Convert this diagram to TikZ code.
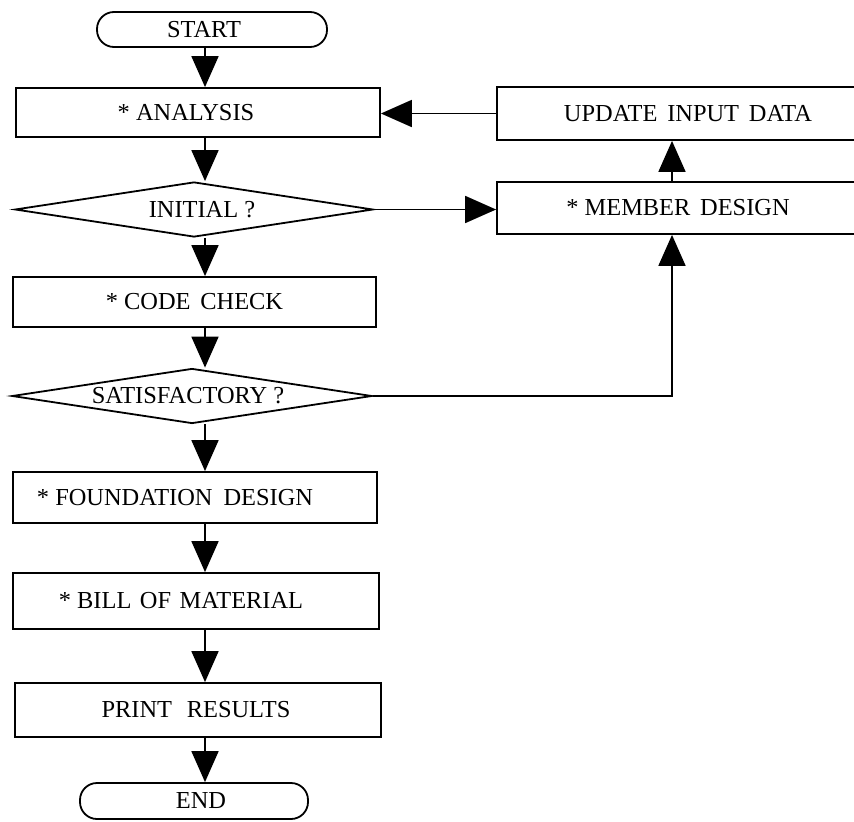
\documentclass[tikz,border=0pt]{standalone}
\usepackage{fontspec}
\setmainfont{Liberation Serif}
\usetikzlibrary{arrows.meta,shapes.geometric}
\begin{document}
\begin{tikzpicture}[x=1bp,y=-1bp,
  every node/.style={font=\fontsize{24.5}{28}\selectfont},
  lw/.style={line width=1.8bp},
  box/.style={lw,draw,rectangle,inner sep=0pt},
  term/.style={lw,draw,rectangle,rounded corners=17bp,inner sep=0pt},
  decide/.style={lw,draw,diamond,inner sep=0pt,aspect=6.5},
  arr/.style={lw,-{Triangle[length=31bp,width=27bp]}}
]
\useasboundingbox (0,0) rectangle (854,822);
\clip (0,0) rectangle (854,822);

\node[term,minimum width=230bp,minimum height=35bp,label={[xshift=-8bp]center:START}] (start) at (212,29.5) {};
\node[box,minimum width=364bp,minimum height=49bp,label={[xshift=-12bp]center:* ANALYSIS}] (analysis) at (198,112.5) {};
\node[decide,minimum width=358bp,minimum height=55bp,label={[xshift=8bp]center:INITIAL ?}] (initial) at (194,209.5) {};
\node[box,minimum width=363bp,minimum height=50bp,label={[xshift=0bp]center:* CODE\hspace{0.4em}CHECK}] (code) at (194.5,302) {};
\node[decide,minimum width=360bp,minimum height=55bp,label={[xshift=-4bp]center:SATISFACTORY ?}] (sat) at (192,396) {};
\node[box,minimum width=364bp,minimum height=51bp,label={[xshift=-20bp]center:* FOUNDATION\hspace{0.45em}DESIGN}] (found) at (195,497.5) {};
\node[box,minimum width=366bp,minimum height=56bp,label={[xshift=-15bp]center:* BILL\hspace{0.35em}OF\hspace{0.35em}MATERIAL}] (bill) at (196,601) {};
\node[box,minimum width=366bp,minimum height=54bp,label={[xshift=-2bp]center:PRINT\hspace{0.6em}RESULTS}] (print) at (198,710) {};
\node[term,minimum width=228bp,minimum height=36bp,label={[xshift=7bp]center:END}] (end) at (194,801) {};

\node[box,minimum width=400bp,minimum height=53bp,label={[xshift=-9bp]center:UPDATE\hspace{0.4em}INPUT\hspace{0.4em}DATA}] (update) at (697,113.5) {};
\node[box,minimum width=400bp,minimum height=52bp,label={[xshift=-19bp]center:* MEMBER\hspace{0.4em}DESIGN}] (member) at (697,208) {};

\coordinate (ax) at (205,0);
\coordinate (mx) at (672,0);

\draw[arr] (start.south -| ax) -- (analysis.north -| ax);
\draw[arr] (analysis.south -| ax) -- (initial.north -| ax);
\draw[arr] (initial.south -| ax) -- (code.north -| ax);
\draw[arr] (code.south -| ax) -- (sat.north -| ax);
\draw[arr] (sat.south -| ax) -- (found.north -| ax);
\draw[arr] (found.south -| ax) -- (bill.north -| ax);
\draw[arr] (bill.south -| ax) -- (print.north -| ax);
\draw[arr] (print.south -| ax) -- (end.north -| ax);

\draw[arr] (update.west) -- (analysis.east |- update.west);
\draw[arr] (initial.east) -- (member.west |- initial.east);
\draw[arr] (member.north -| mx) -- (update.south -| mx);
\draw[arr] (sat.east) -- (sat.east -| mx) -- (member.south -| mx);
\end{tikzpicture}
\end{document}
